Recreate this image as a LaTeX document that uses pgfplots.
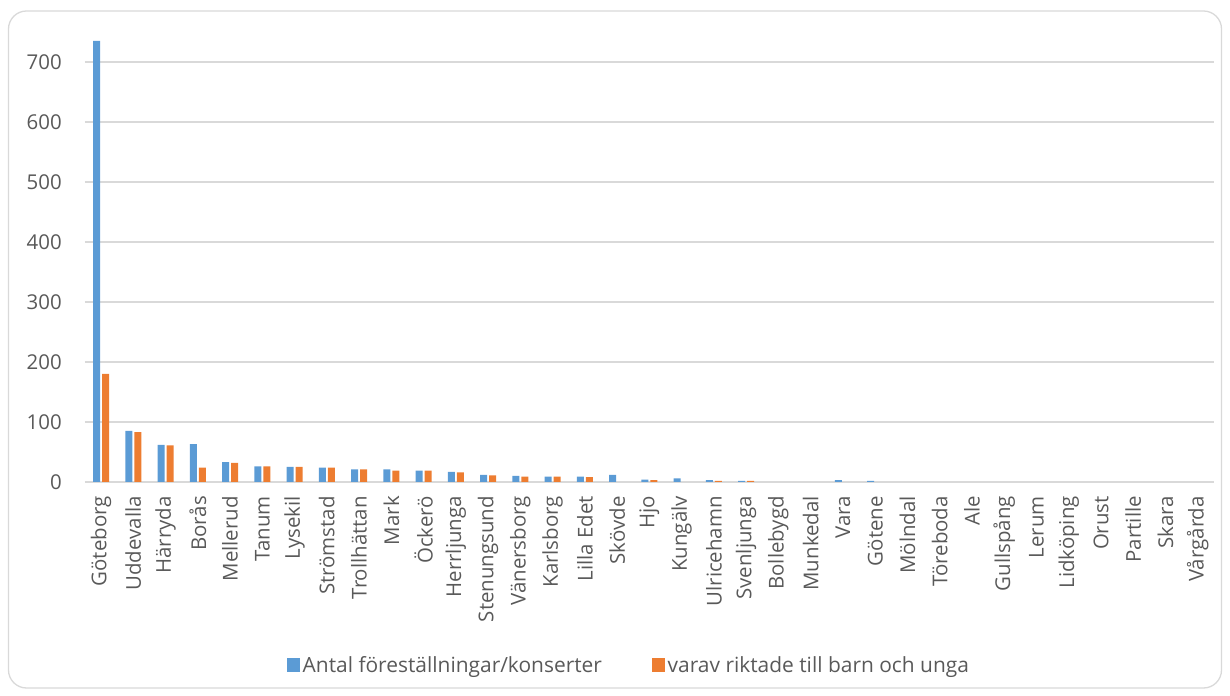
\documentclass[border=0pt]{standalone}
\usepackage{fontspec}
\setmainfont{Open Sans}
\usepackage{pgfplots}
\pgfplotsset{compat=1.18}
\definecolor{cblue}{HTML}{5B9BD5}
\definecolor{corange}{HTML}{ED7D31}
\definecolor{gridgray}{HTML}{D9D9D9}
\definecolor{txtgray}{HTML}{595959}
\begin{document}
\begin{tikzpicture}
\useasboundingbox (0,0) rectangle (1230bp,696bp);
\draw[gridgray, line width=1.3bp, rounded corners=18bp] (8.5bp,8bp) rectangle (1221.5bp,685bp);
\begin{axis}[
  at={(84.9bp,214bp)}, anchor=south west,
  scale only axis, width=1129bp, height=444bp,
  xmin=-0.5, xmax=34.5, ymin=0, ymax=740,
  ybar=2bp, bar width=7bp,
  axis line style={draw=none},
  major tick length=0pt,
  ymajorgrids, major grid style={draw=gridgray, line width=1.3bp},
  ytick={0,100,...,700},
  xtick={0,...,34},
  xticklabels={Göteborg,Uddevalla,Härryda,Borås,Mellerud,Tanum,Lysekil,Strömstad,Trollhättan,Mark,Öckerö,Herrljunga,Stenungsund,Vänersborg,Karlsborg,Lilla Edet,Skövde,Hjo,Kungälv,Ulricehamn,Svenljunga,Bollebygd,Munkedal,Vara,Götene,Mölndal,Töreboda,Ale,Gullspång,Lerum,Lidköping,Orust,Partille,Skara,Vårgårda},
  /pgf/number format/assume math mode=true,
  tick label style={font=\fontsize{20.5}{24}\selectfont, text=txtgray},
  x tick label style={rotate=90, anchor=east, inner sep=0pt},
  xticklabel shift=14bp,
  y tick label style={anchor=east, inner sep=0pt},
  yticklabel shift=23bp,
  legend style={at={(0.4821,-0.412)}, anchor=center, draw=none, fill=none,
    legend columns=2, font=\fontsize{21}{25}\selectfont, text=txtgray,
    /tikz/every even column/.append style={column sep=47.5bp},
    nodes={inner sep=2.5bp}},
  legend cell align=left,
]
\addplot[fill=cblue, draw=none, legend image code/.code={\fill[cblue] (0bp,-6.65bp) rectangle (13.3bp,6.65bp);}] coordinates {
(0,735) (1,85) (2,62) (3,63) (4,33) (5,26) (6,25) (7,24) (8,21) (9,21) (10,19) (11,17) (12,12) (13,10) (14,9) (15,9) (16,12) (17,4) (18,6) (19,3) (20,2) (21,0) (22,0) (23,3) (24,2) (25,0) (26,0) (27,0) (28,0) (29,0) (30,0) (31,0) (32,0) (33,0) (34,0)};
\addlegendentry{Antal föreställningar/konserter}
\addplot[fill=corange, draw=none, legend image code/.code={\fill[corange] (0bp,-6.65bp) rectangle (13.3bp,6.65bp);}] coordinates {
(0,180) (1,83) (2,61) (3,24) (4,32) (5,26) (6,25) (7,24) (8,21) (9,19) (10,19) (11,16) (12,11) (13,9) (14,9) (15,8) (16,0) (17,3) (18,0) (19,2) (20,2) (21,0) (22,0) (23,0) (24,0) (25,0) (26,0) (27,0) (28,0) (29,0) (30,0) (31,0) (32,0) (33,0) (34,0)};
\addlegendentry{varav riktade till barn och unga}
\end{axis}
\end{tikzpicture}
\end{document}
